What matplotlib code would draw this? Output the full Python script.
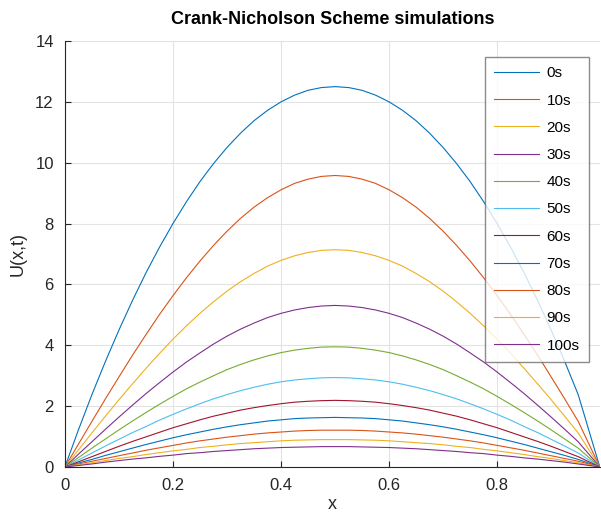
import numpy as np
import matplotlib
matplotlib.use('Agg')
import matplotlib.pyplot as plt

plt.rcParams['font.family'] = ['Liberation Sans', 'DejaVu Sans']

# grid points along x
x = [0.0, 0.025, 0.05, 0.075, 0.10, 0.125, 0.15, 0.175, 0.20, 0.225, 0.25,
     0.275, 0.30, 0.325, 0.35, 0.375, 0.40, 0.425, 0.45, 0.475, 0.50,
     0.525, 0.55, 0.575, 0.60, 0.625, 0.65, 0.675, 0.70, 0.725, 0.75,
     0.775, 0.80, 0.825, 0.85, 0.875, 0.90, 0.925, 0.95, 0.99]

# U(x,t), one list per time
u_0s = [0, 1.22, 2.38, 3.47, 4.50, 5.47, 6.38, 7.22, 8.00, 8.72, 9.38,
        9.97, 10.50, 10.97, 11.38, 11.72, 12.00, 12.22, 12.38, 12.47, 12.50,
        12.47, 12.38, 12.22, 12.00, 11.72, 11.38, 10.97, 10.50, 9.97, 9.38,
        8.72, 8.00, 7.22, 6.38, 5.47, 4.50, 3.47, 2.38, 0]
u_10s = [0, 0.75, 1.50, 2.24, 2.96, 3.67, 4.35, 5.01, 5.63, 6.22, 6.77,
         7.28, 7.75, 8.17, 8.54, 8.85, 9.11, 9.32, 9.46, 9.55, 9.58,
         9.55, 9.46, 9.32, 9.11, 8.85, 8.54, 8.17, 7.75, 7.28, 6.77,
         6.22, 5.63, 5.01, 4.35, 3.67, 2.96, 2.24, 1.50, 0]
u_20s = [0, 0.56, 1.12, 1.67, 2.21, 2.73, 3.24, 3.73, 4.20, 4.64, 5.05,
         5.43, 5.78, 6.09, 6.36, 6.60, 6.79, 6.94, 7.05, 7.12, 7.14,
         7.12, 7.05, 6.94, 6.79, 6.60, 6.36, 6.09, 5.78, 5.43, 5.05,
         4.64, 4.20, 3.73, 3.24, 2.73, 2.21, 1.67, 1.12, 0]
u_30s = [0, 0.42, 0.83, 1.24, 1.64, 2.03, 2.41, 2.77, 3.12, 3.45, 3.75,
         4.04, 4.30, 4.53, 4.73, 4.91, 5.05, 5.16, 5.24, 5.29, 5.31,
         5.29, 5.24, 5.16, 5.05, 4.91, 4.73, 4.53, 4.30, 4.04, 3.75,
         3.45, 3.12, 2.77, 2.41, 2.03, 1.64, 1.24, 0.83, 0]
u_40s = [0, 0.31, 0.62, 0.92, 1.22, 1.51, 1.79, 2.06, 2.32, 2.57, 2.79,
         3.00, 3.20, 3.37, 3.52, 3.65, 3.76, 3.84, 3.90, 3.94, 3.95,
         3.94, 3.90, 3.84, 3.76, 3.65, 3.52, 3.37, 3.20, 3.00, 2.79,
         2.57, 2.32, 2.06, 1.79, 1.51, 1.22, 0.92, 0.62, 0]
u_50s = [0, 0.23, 0.46, 0.69, 0.91, 1.13, 1.33, 1.54, 1.73, 1.91, 2.08,
         2.24, 2.38, 2.51, 2.62, 2.72, 2.80, 2.86, 2.90, 2.93, 2.94,
         2.93, 2.90, 2.86, 2.80, 2.72, 2.62, 2.51, 2.38, 2.24, 2.08,
         1.91, 1.73, 1.54, 1.33, 1.13, 0.91, 0.69, 0.46, 0]
u_60s = [0, 0.17, 0.34, 0.51, 0.68, 0.84, 0.99, 1.14, 1.29, 1.42, 1.55,
         1.67, 1.77, 1.87, 1.95, 2.02, 2.08, 2.13, 2.16, 2.18, 2.19,
         2.18, 2.16, 2.13, 2.08, 2.02, 1.95, 1.87, 1.77, 1.67, 1.55,
         1.42, 1.29, 1.14, 0.99, 0.84, 0.68, 0.51, 0.34, 0]
u_70s = [0, 0.13, 0.25, 0.38, 0.50, 0.62, 0.74, 0.85, 0.96, 1.06, 1.15,
         1.24, 1.32, 1.39, 1.45, 1.51, 1.55, 1.59, 1.61, 1.62, 1.63,
         1.62, 1.61, 1.59, 1.55, 1.51, 1.45, 1.39, 1.32, 1.24, 1.15,
         1.06, 0.96, 0.85, 0.74, 0.62, 0.50, 0.38, 0.25, 0]
u_80s = [0, 0.10, 0.19, 0.28, 0.37, 0.46, 0.55, 0.63, 0.71, 0.79, 0.86,
         0.92, 0.98, 1.03, 1.08, 1.12, 1.15, 1.18, 1.20, 1.21, 1.21,
         1.21, 1.20, 1.18, 1.15, 1.12, 1.08, 1.03, 0.98, 0.92, 0.86,
         0.79, 0.71, 0.63, 0.55, 0.46, 0.37, 0.28, 0.19, 0]
u_90s = [0, 0.07, 0.14, 0.21, 0.28, 0.34, 0.41, 0.47, 0.53, 0.58, 0.64,
         0.68, 0.73, 0.77, 0.80, 0.83, 0.86, 0.88, 0.89, 0.90, 0.90,
         0.90, 0.89, 0.88, 0.86, 0.83, 0.80, 0.77, 0.73, 0.68, 0.64,
         0.58, 0.53, 0.47, 0.41, 0.34, 0.28, 0.21, 0.14, 0]
u_100s = [0, 0.05, 0.10, 0.16, 0.21, 0.26, 0.30, 0.35, 0.39, 0.44, 0.47,
          0.51, 0.54, 0.57, 0.60, 0.62, 0.64, 0.65, 0.66, 0.67, 0.67,
          0.67, 0.66, 0.65, 0.64, 0.62, 0.60, 0.57, 0.54, 0.51, 0.47,
          0.44, 0.39, 0.35, 0.30, 0.26, 0.21, 0.16, 0.10, 0]

labels = ['0s', '10s', '20s', '30s', '40s', '50s', '60s', '70s', '80s', '90s', '100s']
series = [u_0s, u_10s, u_20s, u_30s, u_40s, u_50s, u_60s, u_70s, u_80s, u_90s, u_100s]

# default MATLAB line colour order
colors = ['#0072BD', '#D95319', '#EDB120', '#7E2F8E', '#77AC30', '#4DBEEE', '#A2142F']

fig = plt.figure(figsize=(6.01, 5.15), dpi=100)
ax = fig.add_axes([0.108, 0.0932, 0.89, 0.8272])

for i, (lab, u) in enumerate(zip(labels, series)):
    ax.plot(x, u, color=colors[i % len(colors)], linewidth=0.8, label=lab)

ax.set_xlim(0, 0.99)
ax.set_ylim(0, 14)
ax.set_xticks([0, 0.2, 0.4, 0.6, 0.8])
ax.set_xticklabels(['0', '0.2', '0.4', '0.6', '0.8'])
ax.set_yticks(range(0, 15, 2))

ax.grid(True, color='#e3e3e3', linewidth=0.8)
ax.set_axisbelow(True)
for side in ['top', 'right']:
    ax.spines[side].set_visible(False)
for side in ['left', 'bottom']:
    ax.spines[side].set_color('#262626')
    ax.spines[side].set_linewidth(0.8)
ax.tick_params(direction='in', length=4, width=0.8, colors='#262626',
               labelsize=12, pad=8)

ax.set_xlabel('x', fontsize=13, color='#262626', labelpad=2)
ax.set_ylabel('U(x,t)', fontsize=13, color='#262626', labelpad=6)
ax.set_title('Crank-Nicholson Scheme simulations', fontsize=13,
             fontweight='bold', pad=12)

leg = ax.legend(loc='upper right', bbox_to_anchor=(0.979, 0.962),
                fontsize=11, frameon=True, fancybox=False,
                handlelength=2.9, handletextpad=0.5, labelspacing=0.865,
                borderpad=0.6, borderaxespad=0)
leg.get_frame().set_edgecolor('#6e6e6e')
leg.get_frame().set_linewidth(1.0)

fig.savefig('out.png', dpi=100)
